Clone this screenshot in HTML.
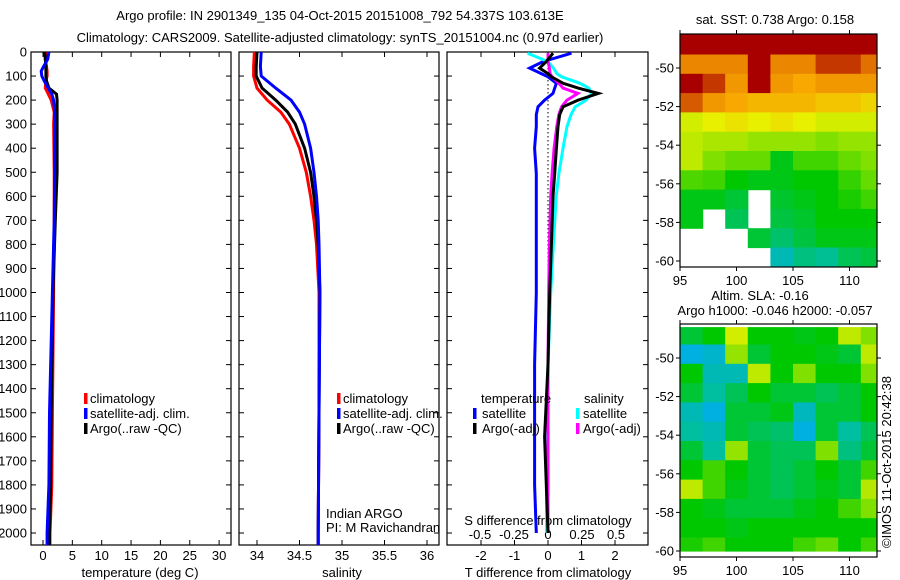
<!DOCTYPE html>
<html><head><meta charset="utf-8"><style>
html,body{margin:0;padding:0;background:#fff;}
svg{display:block;font-family:"Liberation Sans",sans-serif;}
text{font-size:13px;fill:#000;}
</style></head><body>
<svg id="fig" width="900" height="580" viewBox="0 0 900 580">
<text x="340" y="20" text-anchor="middle" font-size="13.5">Argo profile: IN 2901349_135 04-Oct-2015 20151008_792 54.337S 103.613E</text>
<text x="340" y="42" text-anchor="middle" font-size="13.5">Climatology: CARS2009. Satellite-adjusted climatology: synTS_20151004.nc (0.97d earlier)</text>
<g id="g"></g>
</svg>
<script>
// ---- depth grids and series (top-level data arrays) ----
const tDepth = [0,30,60,80,100,120,150,175,200,250,300,500,700,1000,1500,1800,2000,2050];
const tClim  = [0.5,0.4,0.6,0.7,0.7,0.5,0.4,0.9,1.4,1.9,1.8,1.9,1.9,1.8,1.6,1.5,1.2,1.2];
const tArgo  = [0.3,0.4,0.5,0.5,0.5,0.6,1.0,2.3,2.4,2.4,2.4,2.4,2.1,1.7,1.4,1.3,1.1,1.1];
const tSat   = [1.0,0.8,0.1,-0.3,-0.2,0.2,0.9,1.5,1.8,2.0,2.0,2.0,1.9,1.6,1.1,1.0,0.7,0.7];

const sDepth = [0,60,100,150,200,250,300,400,500,600,700,800,1000,1500,2000,2050];
const sClim  = [33.97,33.96,33.96,34.0,34.12,34.28,34.38,34.5,34.58,34.63,34.67,34.7,34.73,34.73,34.72,34.72];
const sArgo  = [34.0,33.99,33.99,34.06,34.22,34.36,34.45,34.56,34.63,34.67,34.7,34.72,34.74,34.73,34.72,34.72];
const sSat   = [34.05,34.04,34.05,34.22,34.4,34.5,34.56,34.63,34.67,34.7,34.72,34.73,34.74,34.73,34.72,34.72];

const dDepth  = [5,40,67,90,103,130,150,172,200,228,260,310,400,505,600,800,1000,1300,1600,1800,2000];
const dTsat   = [0.7,-0.15,-0.55,-0.2,0.0,0.25,0.2,0.15,-0.1,-0.3,-0.35,-0.35,-0.4,-0.35,-0.35,-0.35,-0.35,-0.4,-0.4,-0.4,-0.35];
const dTargo  = [0.15,-0.05,-0.25,0.0,0.1,0.45,0.9,1.5,0.9,0.45,0.35,0.3,0.25,0.2,0.15,0.1,0.05,0.0,-0.1,-0.05,0.0];
const dSsat   = [-0.15,0.0,0.04,0.065,0.1,0.235,0.3,0.32,0.28,0.2,0.17,0.14,0.11,0.08,0.06,0.04,0.02,0.0,-0.01,-0.01,-0.01];
const dSargo  = [0.0,0.0,0.01,0.015,0.03,0.08,0.11,0.22,0.14,0.1,0.08,0.065,0.045,0.03,0.02,0.01,0.005,0.0,0.0,0.0,0.0];

const depthTicks = [0,100,200,300,400,500,600,700,800,900,1000,1100,1200,1300,1400,1500,1600,1700,1800,1900,2000];
const tempTicks = [0,5,10,15,20,25,30];
const salTicks = [34,34.5,35,35.5,36];
const salTickLabels = ["34","34.5","35","35.5","36"];
const dTTicks = [-2,-1,0,1,2];
const dSTicks = [-0.5,-0.25,0,0.25,0.5];
const dSTickLabels = ["-0.5","-0.25","0","0.25","0.5"];

const lonTicks = [95,100,105,110];
const latTicks = [-50,-52,-54,-56,-58,-60];
const mapLonEdges = [95,97,99,101,103,105,107,109,111,113];
const sstLatEdges = [-48.2,-49.3,-50.3,-51.3,-52.3,-53.3,-54.3,-55.3,-56.3,-57.3,-58.3,-59.3,-60.3];
const sstValues = [
 [1,1,1,1,1,1,1,1,1],
 [0.86,0.86,0.86,1,0.86,0.86,0.95,0.95,0.9],
 [1,0.95,0.83,1,0.83,0.8,0.83,0.83,0.83],
 [0.92,0.83,0.8,0.78,0.78,0.78,0.76,0.76,0.74],
 [0.68,0.7,0.72,0.7,0.72,0.7,0.68,0.68,0.68],
 [0.66,0.64,0.64,0.62,0.62,0.62,0.6,0.62,0.62],
 [0.66,0.6,0.58,0.58,0.48,0.55,0.55,0.58,0.6],
 [0.56,0.55,0.5,0.48,0.48,0.5,0.5,0.54,0.58],
 [0.48,0.48,0.45,null,0.46,0.48,0.5,0.52,0.55],
 [0.48,null,0.42,null,0.44,0.46,0.5,0.5,0.5],
 [null,null,null,0.45,0.4,0.44,0.48,0.48,0.48],
 [null,null,null,null,0.3,0.38,0.36,0.42,0.44]
];
const slaLatEdges = [-48.4,-49.3,-50.3,-51.3,-52.3,-53.3,-54.3,-55.3,-56.3,-57.3,-58.3,-59.3,-60.0];
const slaValues = [
 [0.45,0.5,0.68,0.5,0.5,0.48,0.5,0.66,0.6],
 [0.2,0.25,0.62,0.45,0.5,0.5,0.48,0.45,0.66],
 [0.5,0.3,0.3,0.66,0.5,0.6,0.5,0.5,0.6],
 [0.45,0.35,0.42,0.5,0.45,0.45,0.42,0.45,0.5],
 [0.3,0.2,0.45,0.45,0.48,0.28,0.45,0.45,0.5],
 [0.35,0.3,0.45,0.42,0.4,0.2,0.45,0.35,0.42],
 [0.45,0.35,0.62,0.45,0.42,0.42,0.6,0.38,0.45],
 [0.5,0.55,0.5,0.45,0.42,0.45,0.5,0.45,0.55],
 [0.66,0.55,0.48,0.45,0.42,0.45,0.48,0.45,0.65],
 [0.5,0.48,0.45,0.45,0.45,0.48,0.5,0.55,0.6],
 [0.5,0.5,0.48,0.5,0.5,0.5,0.5,0.5,0.5],
 [0.52,0.55,0.5,0.5,0.5,0.55,0.58,0.5,0.55]
];

const NS = "http://www.w3.org/2000/svg";
const G = document.getElementById('g');
function mk(tag, attrs, parent){ const e=document.createElementNS(NS,tag); for(const k in attrs) e.setAttribute(k,attrs[k]); (parent||G).appendChild(e); return e; }

const Y0=52, Y1=545;
const yD = d => Y0 + d*0.2405;
const P1={x0:31,x1:231}, P2={x0:239,x1:439}, P3={x0:447,x1:648};
const xT = v => 43 + v*5.87;
const xS = v => 257 + (v-34)*85;
const xdT = v => 548 + v*33.5;
const xdS = v => 548 + v*136;

function panelFrame(P,name){
  const r=mk('rect',{x:P.x0,y:Y0,width:P.x1-P.x0,height:Y1-Y0,fill:'none',stroke:'#000','stroke-width':1.2});
  
  
  depthTicks.forEach(d=>{
    const y=yD(d);
    mk('line',{x1:P.x0,x2:P.x0+5,y1:y,y2:y,stroke:'#000'});
    mk('line',{x1:P.x1-5,x2:P.x1,y1:y,y2:y,stroke:'#000'});
  });
}
function xTicks(P,ticks,fx,labels,ly,name){
  ticks.forEach((v,i)=>{
    const x=fx(v);
    mk('line',{x1:x,x2:x,y1:Y1,y2:Y1-5,stroke:'#000'});
    mk('line',{x1:x,x2:x,y1:Y0,y2:Y0+5,stroke:'#000'});
    const t=mk('text',{x:x,y:ly,'text-anchor':'middle'}); t.textContent=labels?labels[i]:String(v);
    
    
  });
}
function line(xs,ds,fx,color,name,w){
  const pts=xs.map((v,i)=>fx(v).toFixed(1)+','+yD(ds[i]).toFixed(1)).join(' ');
  const p=mk('polyline',{points:pts,fill:'none',stroke:color,'stroke-width':w||3,'stroke-linejoin':'miter'});
  
  
}
function label(x,y,txt,name,anchor){
  const t=mk('text',{x:x,y:y,'text-anchor':anchor||'start'}); t.textContent=txt;
  
  
  return t;
}
function legBar(x,y,color,name){
  const r=mk('rect',{x:x,y:y-10,width:3.5,height:11,fill:color});
  
  
}

depthTicks.forEach(d=>{ label(27,yD(d)+4.5,String(d),'depth-tick-label','end'); });

panelFrame(P1,'temperature-panel');
xTicks(P1,tempTicks,xT,null,560,'temperature-tick-label');
label(140,577,'temperature (deg C)','temperature-axis-title','middle');
line(tClim,tDepth,xT,'#ff0000','temp-climatology-line');
line(tArgo,tDepth,xT,'#000000','temp-argo-line');
line(tSat,tDepth,xT,'#0000ff','temp-satellite-line');
legBar(84,403,'#ff0000','legend-climatology-swatch'); label(90,403,'climatology','legend-climatology');
legBar(84,418,'#0000ff','legend-satellite-swatch'); label(90,418,'satellite-adj. clim.','legend-satellite');
legBar(84,433,'#000','legend-argo-swatch'); label(90,433,'Argo(..raw -QC)','legend-argo');

panelFrame(P2,'salinity-panel');
xTicks(P2,salTicks,xS,salTickLabels,560,'salinity-tick-label');
label(342,577,'salinity','salinity-axis-title','middle');
line(sClim,sDepth,xS,'#ff0000','sal-climatology-line');
line(sArgo,sDepth,xS,'#000000','sal-argo-line');
line(sSat,sDepth,xS,'#0000ff','sal-satellite-line');
legBar(337,403,'#ff0000','legend2-climatology-swatch'); label(343,403,'climatology','legend2-climatology');
legBar(337,418,'#0000ff','legend2-satellite-swatch'); label(343,418,'satellite-adj. clim.','legend2-satellite');
legBar(337,433,'#000','legend2-argo-swatch'); label(343,433,'Argo(..raw -QC)','legend2-argo');
label(326,518,'Indian ARGO','data-source-label');
label(326,532,'PI: M Ravichandran','pi-label');

panelFrame(P3,'difference-panel');
xTicks(P3,dTTicks,xdT,null,560,'t-diff-tick-label');
label(548,577,'T difference from climatology','t-diff-axis-title','middle');
label(548,525,'S difference from climatology','s-diff-axis-title','middle');
dSTicks.forEach((v,i)=>{ label(xdS(v),539,dSTickLabels[i],'s-diff-tick-label','middle'); });
const z=mk('line',{x1:xdT(0),x2:xdT(0),y1:yD(0),y2:yD(2000),stroke:'#000','stroke-dasharray':'1.5,2.5','stroke-width':1});
 
line(dTsat,dDepth,xdT,'#0000ff','tdiff-satellite-line');
line(dSsat,dDepth,xdS,'#00ffff','sdiff-satellite-line');
line(dSargo,dDepth,xdS,'#ff00ff','sdiff-argo-line');
line(dTargo,dDepth,xdT,'#000000','tdiff-argo-line');
label(481,403,'temperature','legend3-temperature-heading');
legBar(473,418,'#0000ff','legend3-tsat-swatch'); label(482,418,'satellite','legend3-tsat');
legBar(473,433,'#000','legend3-targo-swatch'); label(482,433,'Argo(-adj)','legend3-targo');
label(584,403,'salinity','legend3-salinity-heading');
legBar(576,418,'#00ffff','legend3-ssat-swatch'); label(583,418,'satellite','legend3-ssat');
legBar(576,433,'#ff00ff','legend3-sargo-swatch'); label(583,433,'Argo(-adj)','legend3-sargo');

const stops=[[0,[32,96,208]],[0.2,[0,176,224]],[0.35,[0,190,160]],[0.5,[0,200,0]],[0.6,[128,224,0]],[0.7,[232,240,0]],[0.8,[248,168,0]],[0.9,[224,112,0]],[1,[168,0,0]]];
function cmap(v){
  for(let i=1;i<stops.length;i++){ if(v<=stops[i][0]){ const a=stops[i-1],b=stops[i],t=(v-a[0])/(b[0]-a[0]);
    return 'rgb('+a[1].map((c,j)=>Math.round(c+(b[1][j]-c)*t)).join(',')+')'; } }
  return 'rgb(168,0,0)';
}
function drawMap(M,latEdges,vals,name,cellName){
  const fx=lon=>M.x0+(lon-95)*M.kx;
  const fy=lat=>M.y50+(-50-lat)*M.ky;
  const cid='clip-'+name;
  const cp=mk('clipPath',{id:cid}); mk('rect',{x:M.x0,y:M.top,width:M.x1-M.x0,height:M.bot-M.top},cp);
  const g=mk('g',{'clip-path':'url(#'+cid+')'});
  
  
  vals.forEach((row,r)=>row.forEach((v,c)=>{
    if(v===null) return;
    const x=fx(mapLonEdges[c]), y=fy(latEdges[r]);
    const cell=mk('rect',{x:x.toFixed(1),y:y.toFixed(1),width:(fx(mapLonEdges[c+1])-x+0.6).toFixed(1),height:(fy(latEdges[r+1])-y+0.6).toFixed(1),fill:cmap(v)},g);
    
    
  }));
  const fr=mk('rect',{x:M.x0,y:M.top,width:M.x1-M.x0,height:M.bot-M.top,fill:'none',stroke:'#000','stroke-width':1.2});
  
  
  lonTicks.forEach(l=>{ const x=fx(l);
    mk('line',{x1:x,x2:x,y1:M.bot,y2:M.bot+4,stroke:'#000'});
    mk('line',{x1:x,x2:x,y1:M.top,y2:M.top-4,stroke:'#000'});
    label(x,M.bot+18,String(l),name+'-lon-label','middle'); });
  latTicks.forEach(l=>{ const y=fy(l);
    mk('line',{x1:M.x0-4,x2:M.x0,y1:y,y2:y,stroke:'#000'});
    mk('line',{x1:M.x1,x2:M.x1+4,y1:y,y2:y,stroke:'#000'});
    label(M.x0-6,y+4.5,String(l),name+'-lat-label','end'); });
}
drawMap({x0:680,x1:877,top:34,bot:267,y50:68,kx:11.3,ky:19.3},sstLatEdges,sstValues,'sst-map','sst-cell');
label(775,24,'sat. SST: 0.738 Argo: 0.158','sst-map-title','middle');
drawMap({x0:680,x1:877,top:324,bot:557,y50:358,kx:11.3,ky:19.3},slaLatEdges,slaValues,'sla-map','sla-cell');
label(760,300,'Altim. SLA: -0.16','sla-map-title','middle');
label(775,315,'Argo h1000: -0.046 h2000: -0.057','sla-map-subtitle','middle');
const ts=label(0,0,'©IMOS 11-Oct-2015 20:42:38','timestamp','middle');
ts.setAttribute('transform','translate(891,462) rotate(-90)');
</script>
</body></html>
